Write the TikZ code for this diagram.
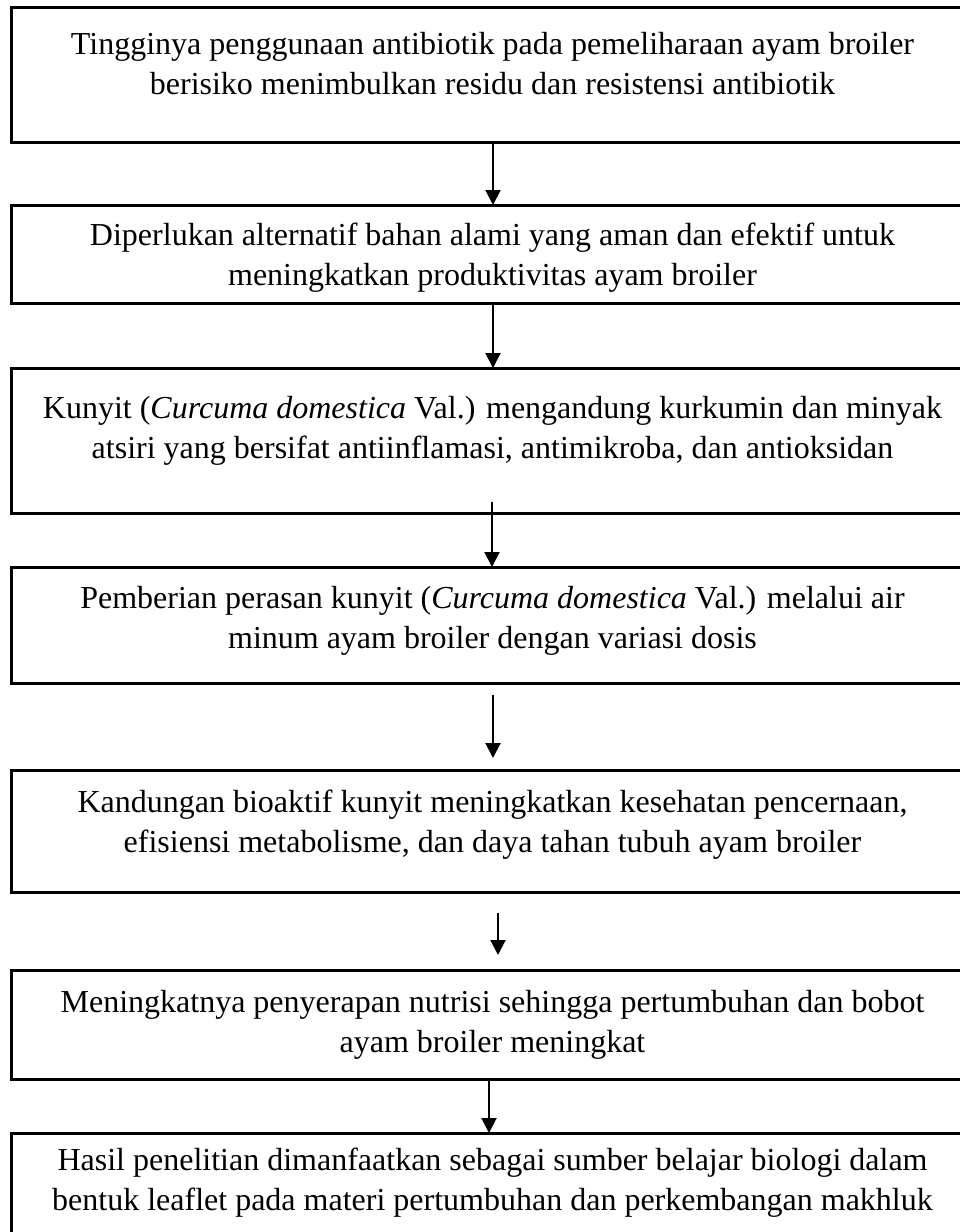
\documentclass[tikz,border=0pt]{standalone}
\usepackage{fontspec}
\setmainfont{Liberation Serif}
\usetikzlibrary{arrows.meta}
\begin{document}
\begin{tikzpicture}[x=1pt,y=1pt,
  box/.style={draw, line width=3pt, rectangle, inner sep=0pt, outer sep=0pt,
    minimum width=962pt, align=center, anchor=north,
    font=\fontsize{32}{40}\selectfont},
  arr/.style={line width=2pt, -{Triangle[length=15pt,width=15pt]}}]
\path[use as bounding box, clip] (0,0) rectangle (960,-1232);
\fill[white] (0,0) rectangle (960,-1232);

\node[box, text height=87pt, text depth=48pt] (b1) at (492.5,-7)
  {Tingginya penggunaan antibiotik pada pemeliharaan ayam broiler\\
   berisiko menimbulkan residu dan resistensi antibiotik};
\node[box, text height=80pt, text depth=18pt] (b2) at (492.5,-205)
  {Diperlukan alternatif bahan alami yang aman dan efektif untuk\\
   meningkatkan produktivitas ayam broiler};
\node[box, text height=90pt, text depth=55pt] (b3) at (492.5,-368)
  {Kunyit (\textit{Curcuma domestica} Val.) mengandung kurkumin dan minyak\\
   atsiri yang bersifat antiinflamasi, antimikroba, dan antioksidan};
\node[box, text height=81pt, text depth=35pt] (b4) at (492.5,-567)
  {Pemberian perasan kunyit (\textit{Curcuma domestica} Val.) melalui air\\
   minum ayam broiler dengan variasi dosis};
\node[box, text height=82pt, text depth=40pt] (b5) at (492.5,-770)
  {Kandungan bioaktif kunyit meningkatkan kesehatan pencernaan,\\
   efisiensi metabolisme, dan daya tahan tubuh ayam broiler};
\node[box, text height=82pt, text depth=27pt] (b6) at (492.5,-970)
  {Meningkatnya penyerapan nutrisi sehingga pertumbuhan dan bobot\\
   ayam broiler meningkat};
\node[box, text height=77pt, text depth=60pt] (b7) at (492.5,-1133)
  {Hasil penelitian dimanfaatkan sebagai sumber belajar biologi dalam\\
   bentuk leaflet pada materi pertumbuhan dan perkembangan makhluk};

\draw[arr] ([xshift=0.5pt]b1.south) -- ([xshift=0.5pt]b2.north);
\draw[arr] ([xshift=0.5pt]b2.south) -- ([xshift=0.5pt]b3.north);
\draw[arr] ([xshift=-0.5pt,yshift=11pt]b3.south) -- ([xshift=-0.5pt]b4.north);
\draw[arr] ([xshift=0.5pt,yshift=-12pt]b4.south) -- ([xshift=0.5pt,yshift=12pt]b5.north);
\draw[arr] ([xshift=5.5pt,yshift=-21pt]b5.south) -- ([xshift=5.5pt,yshift=15pt]b6.north);
\draw[arr] ([xshift=-3.5pt]b6.south) -- ([xshift=-3.5pt]b7.north);
\end{tikzpicture}
\end{document}
